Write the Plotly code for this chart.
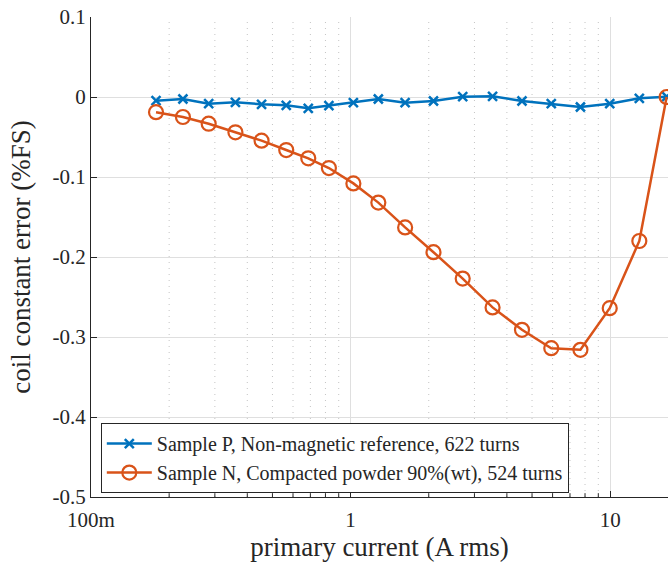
import plotly.graph_objects as go
import numpy as np

current = [0.178, 0.226, 0.284, 0.360, 0.454, 0.565, 0.687, 0.825, 1.025, 1.279,
           1.622, 2.086, 2.703, 3.523, 4.573, 5.93, 7.68, 9.96, 12.95, 16.5]
err_P = [-0.0046, -0.0025, -0.0084, -0.0066, -0.0091, -0.0104, -0.0141, -0.0109, -0.0071, -0.0025,
         -0.0071, -0.0050, 0.0004, 0.0009, -0.0050, -0.0084, -0.0125, -0.0084, -0.0016, 0.0004]
err_N = [-0.019, -0.025, -0.0334, -0.0441, -0.0546, -0.0663, -0.0766, -0.0888, -0.108, -0.132,
         -0.163, -0.194, -0.227, -0.263, -0.291, -0.314, -0.316, -0.264, -0.180, 0.0]
name_P = "Sample P, Non-magnetic reference, 622 turns"
name_N = "Sample N, Compacted powder 90%(wt), 524 turns"
xtick_vals = [0.1, 1, 10]
xtick_text = ["100m", "1", "10"]
ytick_vals = [0.1, 0, -0.1, -0.2, -0.3, -0.4, -0.5]
ytick_text = ["0.1", "0", "-0.1", "-0.2", "-0.3", "-0.4", "-0.5"]

FONT = "'Liberation Serif', 'Times New Roman', 'DejaVu Serif', serif"
BLUE = "#0072BD"
ORANGE = "#D95319"

fig = go.Figure()
fig.add_trace(go.Scatter(x=current, y=err_P, mode="lines+markers", name=name_P,
                         line=dict(color=BLUE, width=2.5),
                         marker=dict(symbol="x-thin", size=9, line=dict(color=BLUE, width=2.5), color=BLUE)))
fig.add_trace(go.Scatter(x=current, y=err_N, mode="lines+markers", name=name_N,
                         line=dict(color=ORANGE, width=2.5),
                         marker=dict(symbol="circle-open", size=14, line=dict(color=ORANGE, width=2.2), color=ORANGE)))

# minor dotted grid lines on the log axis
minor_vals = [m * 10.0 ** d for d in (-1, 0, 1) for m in range(2, 10) if m * 10.0 ** d < 16.7]
for v in minor_vals:
    fig.add_shape(type="line", xref="x", yref="paper", x0=v, x1=v, y0=0, y1=1,
                  line=dict(color="#c4c4c4", width=1, dash="1px,5px"), layer="below")
    fig.add_shape(type="line", xref="x", yref="paper", x0=v, x1=v, y0=0, y1=0.008,
                  line=dict(color="#262626", width=1), layer="above")

fig.update_layout(
    width=668, height=569,
    margin=dict(l=91, r=0, t=17, b=72),
    plot_bgcolor="white", paper_bgcolor="white",
    font=dict(family=FONT, size=21, color="#262626"),
    showlegend=True,
    legend=dict(x=0.017, y=0.154, xanchor="left", yanchor="top",
                bgcolor="white", bordercolor="#262626", borderwidth=1,
                font=dict(family=FONT, size=20, color="#262626"),
                tracegroupgap=0, itemwidth=45),
)
fig.update_xaxes(type="log", range=[-1, np.log10(16.7)],
                 tickvals=xtick_vals, ticktext=xtick_text,
                 ticks="inside", ticklen=6, tickcolor="#262626",
                 showgrid=True, gridcolor="#dfdfdf", gridwidth=1,
                 showline=True, linecolor="#262626", linewidth=1.3,
                 zeroline=False, ticklabelstandoff=4,
                 title=dict(text="primary current (A rms)", font=dict(family=FONT, size=27), standoff=4),
                 tickfont=dict(family=FONT, size=21))
fig.update_yaxes(range=[-0.5, 0.1],
                 tickvals=ytick_vals, ticktext=ytick_text,
                 ticks="inside", ticklen=6, tickcolor="#262626",
                 showgrid=True, gridcolor="#dfdfdf", gridwidth=1,
                 showline=True, linecolor="#262626", linewidth=1.3,
                 zeroline=False,
                 title=dict(text="coil constant error (%FS)", font=dict(family=FONT, size=27), standoff=13),
                 tickfont=dict(family=FONT, size=21))

fig.write_html("out.html")
